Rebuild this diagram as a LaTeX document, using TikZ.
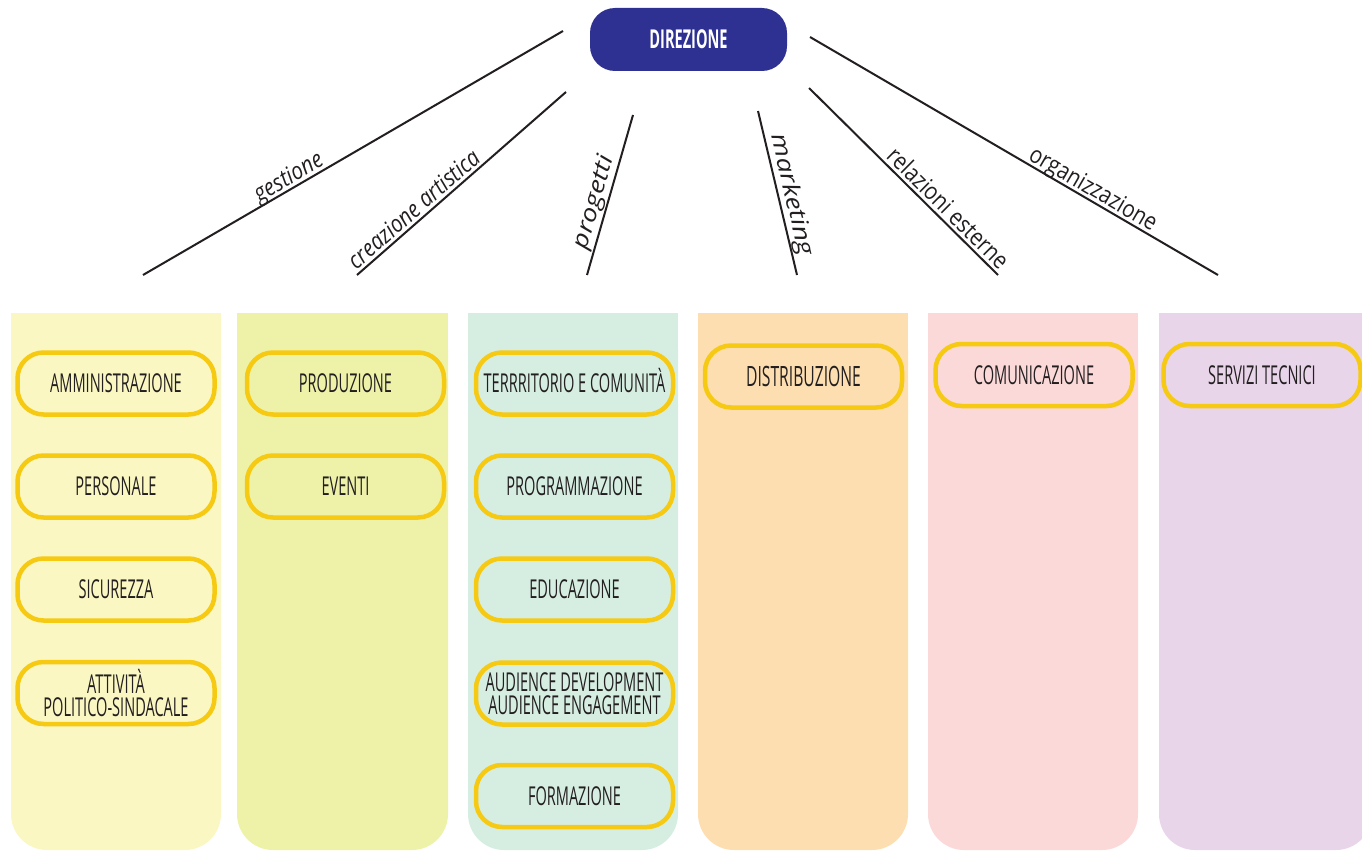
\documentclass[tikz,border=0pt]{standalone}
\usepackage{fontspec}
\setmainfont{Open Sans}
\newfontfamily\boxfont{Open Sans}[FakeStretch=0.56]
\newfontfamily\labfont{Open Sans}[FakeStretch=0.86]
\newfontfamily\labwide{Open Sans}[FakeStretch=1.2]
\definecolor{dirblue}{HTML}{2E3192}
\definecolor{boxyellow}{HTML}{F6C913}
\definecolor{txt}{HTML}{231F20}
\definecolor{cA}{HTML}{FAF7C2}
\definecolor{cB}{HTML}{EEF2A9}
\definecolor{cC}{HTML}{D6EEE2}
\definecolor{cD}{HTML}{FDDEB0}
\definecolor{cE}{HTML}{FAD9D8}
\definecolor{cF}{HTML}{E9D5EA}
\tikzset{
  ybox/.style={draw=boxyellow, line width=4.5pt, rounded corners=26pt,
    minimum width=197pt, minimum height=62pt, inner sep=2pt, align=center,
    text=txt, font=\boxfont\fontsize{26}{23}\selectfont},
  link/.style={draw=txt, line width=2pt},
  lab/.style={sloped, above=4pt, anchor=base, inner sep=0pt, text=txt,
    font=\labfont\fontsize{24}{26}\selectfont},
  labi/.style={lab, font=\labfont\itshape\fontsize{24}{26}\selectfont},
  labw/.style={sloped, above=7pt, anchor=base, inner sep=0pt, text=txt,
    font=\labwide\itshape\fontsize{23}{26}\selectfont}
}
\begin{document}
\begin{tikzpicture}[x=1pt,y=-1pt]
\useasboundingbox (0,0) rectangle (1362,851);
\clip (0,0) rectangle (1362,851);
% columns
\foreach \xa/\xb/\cc in {11/221/cA, 237/448/cB, 468/678/cC, 698/908/cD, 928/1138/cE, 1159/1372/cF}{
  \fill[\cc, rounded corners=36pt] (\xa,313) rectangle (\xb,850);
  \fill[\cc] (\xa,313) rectangle (\xb,420);
}
% direzione
\node[fill=dirblue, rounded corners=25pt, minimum width=197pt, minimum height=63pt,
  text=white, font=\boxfont\bfseries\fontsize{26}{28}\selectfont] (dir) at (688.5,39.5) {DIREZIONE};
% connectors
\coordinate (g1) at (563,31);  \coordinate (g2) at (143,275);
\coordinate (c1) at (566,92);  \coordinate (c2) at (357,275);
\coordinate (p1) at (633,115); \coordinate (p2) at (587,275);
\coordinate (m1) at (758,111); \coordinate (m2) at (797,275);
\coordinate (r1) at (809,88);  \coordinate (r2) at (998,275);
\coordinate (o1) at (810,37);  \coordinate (o2) at (1218,275);
\draw[link] (g1) -- node[labi, pos=0.64] (lg) {gestione} (g2);
\draw[link] (c1) -- node[labi, pos=0.69] (lc) {creazione artistica} (c2);
\draw[link] (p1) -- node[labw, pos=0.57] (lp) {progetti} (p2);
\draw[link] (m1) -- node[labw, pos=0.53] (lm) {marketing} (m2);
\draw[link] (r1) -- node[lab, pos=0.69] (lr) {relazioni esterne} (r2);
\draw[link] (o1) -- node[lab, pos=0.68] (lo) {organizzazione} (o2);
% column 1
\node[ybox] (amm) at (116,383.5) {AMMINISTRAZIONE};
\node[ybox] (per) at (116,486.5) {PERSONALE};
\node[ybox] (sic) at (116,589.5) {SICUREZZA};
\node[ybox] (att) at (116,693) {ATTIVITÀ\\POLITICO-SINDACALE};
% column 2
\node[ybox] (pro) at (345.5,383.5) {PRODUZIONE};
\node[ybox] (eve) at (345.5,486.5) {EVENTI};
% column 3
\node[ybox, text height=18.6pt, text depth=0pt] (ter) at (574.5,383.5) {TERRRITORIO E COMUNITÀ};
\node[ybox] (prg) at (574.5,486.5) {PROGRAMMAZIONE};
\node[ybox] (edu) at (574.5,589.5) {EDUCAZIONE};
\node[ybox] (aud) at (574.5,693.5) {AUDIENCE DEVELOPMENT\\AUDIENCE ENGAGEMENT};
\node[ybox] (for) at (574.5,796) {FORMAZIONE};
% columns 4-6
\node[ybox, font=\boxfont\fontsize{28}{30}\selectfont] (dis) at (803.5,376.5) {DISTRIBUZIONE};
\node[ybox] (com) at (1034,375) {COMUNICAZIONE};
\node[ybox] (ser) at (1262,375) {SERVIZI TECNICI};
\end{tikzpicture}
\end{document}
